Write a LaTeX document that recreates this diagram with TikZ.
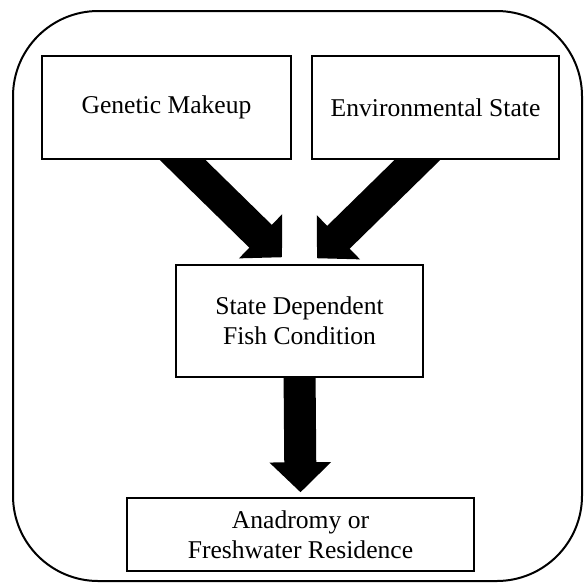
\documentclass[tikz,border=0pt]{standalone}
\usepackage{fontspec}
\setmainfont{Liberation Serif}
\usepackage{tikz}
\usetikzlibrary{calc,arrows.meta,backgrounds}

\begin{document}
\begin{tikzpicture}[x=0.75pt, y=-0.75pt]
			\tikzstyle{every node}=[draw, shape=rectangle, line width=1.1pt, fill=white, align=center, font=\fontsize{19.2}{22.5}\selectfont];
			\tikzstyle{fat}=[line width=24pt, -{Triangle[width=45pt, length=22.5pt]}];
			\useasboundingbox (0,0) rectangle (584,583);
			\draw[line width=1.5pt, rounded corners=64pt] (13,11) rectangle (582,581);
			\node [minimum width=186.75pt, minimum height=77.25pt] (gen) at (166.5, 107.5) {Genetic Makeup};
			\node [minimum width=185.25pt, minimum height=77.25pt] (env) at (435.5, 107.5) {Environmental State};
			\node [minimum width=185.25pt, minimum height=84pt] (state) at (299.5, 321) {State Dependent\\Fish Condition};
			\node [minimum width=260.25pt, minimum height=54.75pt] (res) at (300.5, 534.5) {Anadromy or\\Freshwater Residence};
			\begin{scope}[on background layer]
			\draw[fat] ($(gen.south)+(-4.5,-20)$) -- ($(state.north)+(-17.5,-7)$);
			\draw[fat] ($(env.south)+(2.5,-20)$) -- ($(state.north)+(17.5,-6)$);
			\draw[fat] ($(state.south)+(0,-10)$) -- ($(res.north)+(0,-5)$);
			\end{scope}
		\end{tikzpicture}
\end{document}
